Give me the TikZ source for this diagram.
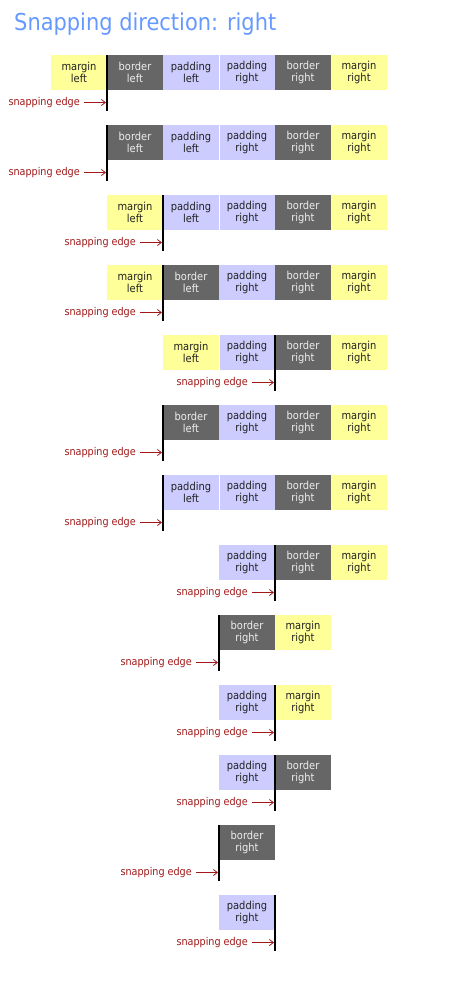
\documentclass[tikz,border=0pt]{standalone}
\usepackage{fontspec}
\setmainfont{DejaVu Sans Condensed}
\usetikzlibrary{arrows.meta}
\definecolor{ttlblue}{HTML}{6699FF}
\definecolor{myyellow}{HTML}{FFFF99}
\definecolor{mylav}{HTML}{CCCCFF}
\definecolor{mygray}{HTML}{666666}
\definecolor{snapred}{HTML}{A01818}
\definecolor{darktext}{HTML}{222222}
\definecolor{lighttext}{HTML}{EEEEEE}
\tikzset{
  bx/.style={anchor=north west, minimum width=56pt, minimum height=35pt,
    inner sep=0pt, outer sep=0pt, align=center,
    font=\fontsize{11}{12.7}\selectfont},
  ml/.style={bx, fill=myyellow, text=darktext},
  mr/.style={bx, fill=myyellow, text=darktext},
  bl/.style={bx, fill=mygray, text=lighttext},
  br/.style={bx, fill=mygray, text=lighttext},
  pl/.style={bx, fill=mylav, text=darktext},
  pr/.style={bx, fill=mylav, text=darktext},
  sep/.style={white, line width=1pt},
  edgeline/.style={black, line width=1.3pt},
  snaplbl/.style={anchor=base east, text=snapred, inner sep=0pt,
    font=\fontsize{10.7}{12.7}\selectfont},
  snaparrow/.style={-{Straight Barb[length=4pt,width=6pt]}, snapred,
    line width=0.8pt, shorten <=4pt}
}
\def\txtml{margin\\left}
\def\txtmr{margin\\right}
\def\txtbl{border\\left}
\def\txtbr{border\\right}
\def\txtpl{padding\\left}
\def\txtpr{padding\\right}
% #1 row index, #2 edge x, #3 list of x/type
\newcommand\snaprow[3]{%
  \pgfmathsetmacro\rowy{55+70*#1}%
  \foreach \bx/\bs in {#3}{%
    \node[\bs] (r#1c\bx) at (\bx,\rowy) {\csname txt\bs\endcsname};
  }%
  \coordinate (et#1) at (#2,\rowy);
  \coordinate (eb#1) at (#2,\rowy+56);
  \coordinate (ea#1) at (#2-1,\rowy+47);
  \node[snaplbl] (lb#1) at (#2-27,\rowy+50.5) {snapping edge};
  \draw[snaparrow] (lb#1.east) -- (lb#1.east -| ea#1);
  \draw[edgeline] (et#1) -- (eb#1);
}
\begin{document}
\begin{tikzpicture}[x=1pt,y=-1pt]
\useasboundingbox (0,0) rectangle (450,1000);
\node[anchor=base west, inner sep=0pt, text=ttlblue,
  font=\fontsize{23.3}{28}\selectfont] (title) at (14,31) {Snapping direction: right};
\snaprow{0}{107}{51/ml,107/bl,163/pl,219/pr,275/br,331/mr}
\draw[sep] (r0c219.north west) -- (r0c219.south west);
\snaprow{1}{107}{107/bl,163/pl,219/pr,275/br,331/mr}
\draw[sep] (r1c219.north west) -- (r1c219.south west);
\snaprow{2}{163}{107/ml,163/pl,219/pr,275/br,331/mr}
\draw[sep] (r2c219.north west) -- (r2c219.south west);
\snaprow{3}{163}{107/ml,163/bl,219/pr,275/br,331/mr}
\snaprow{4}{275}{163/ml,219/pr,275/br,331/mr}
\draw[sep] (r4c219.north west) -- (r4c219.south west);
\snaprow{5}{163}{163/bl,219/pr,275/br,331/mr}
\snaprow{6}{163}{163/pl,219/pr,275/br,331/mr}
\draw[sep] (r6c219.north west) -- (r6c219.south west);
\snaprow{7}{275}{219/pr,275/br,331/mr}
\snaprow{8}{219}{219/br,275/mr}
\snaprow{9}{275}{219/pr,275/mr}
\snaprow{10}{275}{219/pr,275/br}
\snaprow{11}{219}{219/br}
\snaprow{12}{275}{219/pr}
\end{tikzpicture}
\end{document}
